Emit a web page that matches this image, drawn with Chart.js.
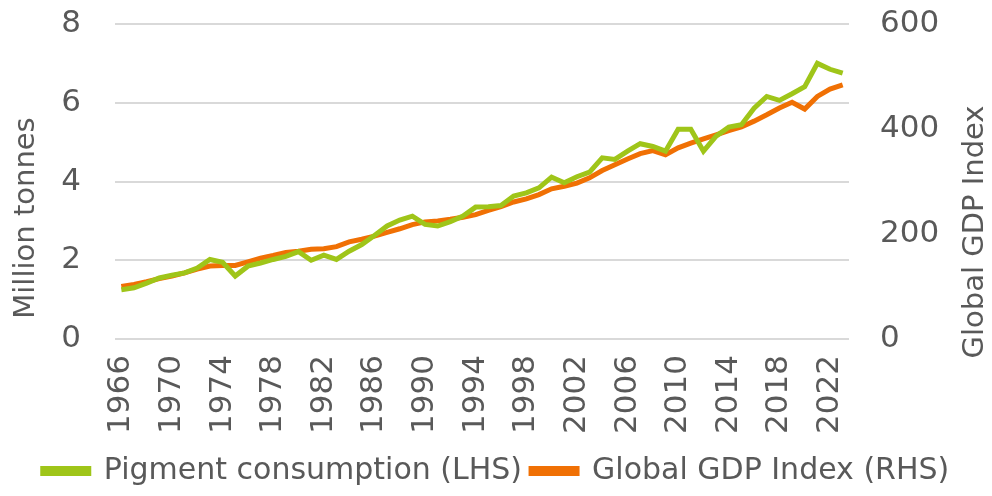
<!DOCTYPE html>
<html>
<head>
<meta charset="utf-8">
<script src="https://cdn.jsdelivr.net/npm/chart.js@4"></script>
<style>
  html, body { margin: 0; padding: 0; background: #fff; }
  #wrap { width: 992px; height: 496px; }
</style>
</head>
<body>
<div id="wrap"><canvas id="pigmentChart"></canvas></div>
<script>
// ===== DATA =====
const years = [];
for (let y = 1966; y <= 2023; y++) years.push(String(y));

const pigment = [
    1.25, 1.3, 1.42, 1.55, 1.62, 1.68, 1.8, 2.02, 1.95, 1.6,
    1.85, 1.93, 2.02, 2.1, 2.22, 2.0, 2.13, 2.02, 2.23, 2.4,
    2.63, 2.87, 3.02, 3.12, 2.91, 2.87, 2.98, 3.12, 3.35, 3.36,
    3.39, 3.63, 3.71, 3.84, 4.11, 3.97, 4.12, 4.24, 4.6, 4.56,
    4.77, 4.96, 4.89, 4.77, 5.33, 5.33, 4.77, 5.15, 5.38, 5.44,
    5.86, 6.16, 6.06, 6.23, 6.41, 7.0, 6.85, 6.75
];

const gdp = [
    100, 104, 109, 115, 120, 126, 133, 139, 140, 140,
    147, 154, 159, 165, 167, 171, 172, 176, 185, 190,
    196, 203, 210, 218, 223, 225, 228, 232, 237, 245,
    252, 261, 267, 275, 286, 291, 297, 307, 321, 332,
    343, 353, 359, 351, 364, 373, 381, 389, 397, 404,
    415, 427, 440, 451, 438, 462, 476, 484
];

const grey = '#595959';
const fontFamily = '"DejaVu Sans", sans-serif';

// axis titles, both read bottom-to-top like the original
const axisTitles = {
    id: 'axisTitles',
    afterDraw(chart) {
        const ctx = chart.ctx;
        ctx.save();
        ctx.fillStyle = grey;
        ctx.font = '29px ' + fontFamily;
        ctx.textAlign = 'center';
        ctx.textBaseline = 'middle';
        [['Million tonnes', 26, 218], ['Global GDP Index', 975, 232]].forEach(([t, x, y]) => {
            ctx.save();
            ctx.translate(x, y);
            ctx.rotate(-Math.PI / 2);
            ctx.fillText(t, 0, 0);
            ctx.restore();
        });
        ctx.restore();
    }
};

// fixed axis sizes, no extra vertical padding from the tick labels
function fixY(w) {
    return s => { s.width = w; s.paddingTop = 0; s.paddingBottom = 0; };
}

new Chart(document.getElementById('pigmentChart'), {
    type: 'line',
    data: {
        labels: years,
        datasets: [{
            label: 'Pigment consumption (LHS)',
            data: pigment,
            borderColor: '#9fc519',
            backgroundColor: '#9fc519',
            borderWidth: 5,
            pointRadius: 0,
            tension: 0,
            yAxisID: 'y'
        }, {
            label: 'Global GDP Index (RHS)',
            data: gdp,
            borderColor: '#f07004',
            backgroundColor: '#f07004',
            borderWidth: 5,
            pointRadius: 0,
            tension: 0,
            yAxisID: 'y1'
        }]
    },
    plugins: [axisTitles],
    options: {
        responsive: true,
        maintainAspectRatio: false,
        animation: false,
        layout: { padding: { left: 0, right: 0, top: 24, bottom: 0 } },
        plugins: {
            legend: {
                position: 'bottom',
                labels: {
                    color: grey,
                    font: { family: fontFamily, size: 30 },
                    boxWidth: 46,
                    boxHeight: 5,
                    padding: 9
                }
            },
            tooltip: { enabled: false }
        },
        scales: {
            x: {
                offset: true,
                grid: { display: false },
                border: { display: false },
                afterFit: s => { s.height = 108; },
                ticks: {
                    color: grey,
                    font: { family: fontFamily, size: 31 },
                    padding: 8,
                    maxRotation: 90,
                    minRotation: 90,
                    autoSkip: false,
                    callback: function (v, i) { return i % 4 === 0 ? this.getLabelForValue(v) : ''; }
                }
            },
            y: {
                position: 'left',
                min: 0,
                max: 8,
                afterFit: fixY(115),
                ticks: { stepSize: 2, color: grey, font: { family: fontFamily, size: 31 }, padding: 34 },
                grid: { color: '#d9d9d9', lineWidth: 2, drawTicks: false },
                border: { display: false }
            },
            y1: {
                position: 'right',
                min: 0,
                max: 600,
                afterFit: fixY(143),
                ticks: { stepSize: 200, color: grey, font: { family: fontFamily, size: 31 }, padding: 31 },
                grid: { display: false, drawTicks: false },
                border: { display: false }
            }
        }
    }
});
</script>
</body>
</html>
